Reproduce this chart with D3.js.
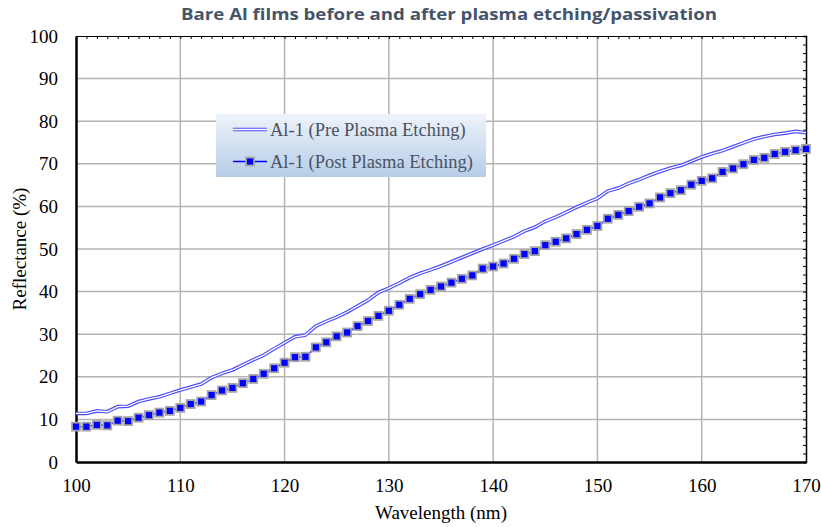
<!DOCTYPE html>
<html>
<head>
<meta charset="utf-8">
<script src="https://cdn.jsdelivr.net/npm/d3@7"></script>
<style>
  body { margin: 0; background: #fff; }
  svg { display: block; }
</style>
</head>
<body>
<script>
var svgWidth = 821;
var svgHeight = 527;
var chartMargin = { top: 36, right: 15, bottom: 65, left: 76 };
var chartWidth = svgWidth - chartMargin.left - chartMargin.right;
var chartHeight = svgHeight - chartMargin.top - chartMargin.bottom;

// wavelength (nm), one point per nm
var wavelengths = d3.range(100, 171);

var preEtching = [
  11.4, 11.4, 12.0, 11.8, 13.0, 13.1, 14.2, 14.8, 15.3, 16.1,
  16.9, 17.6, 18.3, 19.8, 20.8, 21.6, 22.8, 24.0, 25.1, 26.6,
  28.0, 29.4, 29.8, 31.9, 33.0, 34.0, 35.2, 36.6, 38.0, 39.8,
  40.8, 42.0, 43.3, 44.3, 45.1, 46.0, 47.0, 48.0, 49.0, 50.0,
  50.9, 51.9, 52.9, 54.2, 55.1, 56.5, 57.5, 58.6, 59.8, 60.9,
  61.9, 63.6, 64.3, 65.4, 66.3, 67.3, 68.2, 69.0, 69.6, 70.6,
  71.6, 72.4, 73.1, 74.0, 74.9, 75.8, 76.4, 76.9, 77.2, 77.6,
  77.3
];

var postEtching = [
  8.3, 8.3, 8.7, 8.6, 9.7, 9.6, 10.4, 11.0, 11.6, 12.0,
  12.7, 13.6, 14.2, 15.7, 16.8, 17.4, 18.5, 19.5, 20.7, 22.0,
  23.3, 24.6, 24.7, 26.9, 28.1, 29.5, 30.4, 31.9, 33.1, 34.3,
  35.5, 36.9, 38.3, 39.4, 40.4, 41.2, 42.1, 43.0, 43.8, 45.4,
  45.9, 46.6, 47.7, 48.8, 49.5, 50.9, 51.7, 52.5, 53.5, 54.5,
  55.4, 57.1, 58.0, 58.9, 59.9, 60.7, 62.1, 63.1, 63.8, 65.1,
  66.0, 66.6, 68.1, 68.9, 69.9, 70.9, 71.4, 72.3, 72.8, 73.2,
  73.5
];

var xTicks = [100, 110, 120, 130, 140, 150, 160, 170];
var yTicks = [0, 10, 20, 30, 40, 50, 60, 70, 80, 90, 100];
var seriesNames = ["Al-1 (Pre Plasma Etching)", "Al-1 (Post Plasma Etching)"];

var serif = "'Liberation Serif', 'Times New Roman', serif";

var svg = d3.select("body")
  .append("svg")
  .attr("width", svgWidth)
  .attr("height", svgHeight);

var defs = svg.append("defs");
var grad = defs.append("linearGradient")
  .attr("id", "legendGrad")
  .attr("x1", 0).attr("y1", 0).attr("x2", 0).attr("y2", 1);
grad.append("stop").attr("offset", "0%").attr("stop-color", "#eef3fa");
grad.append("stop").attr("offset", "100%").attr("stop-color", "#b6cde8");

var chartGroup = svg.append("g")
  .attr("transform", `translate(${chartMargin.left}, ${chartMargin.top})`);

var xScale = d3.scaleLinear()
  .domain([100, 170])
  .range([0, chartWidth]);

var yScale = d3.scaleLinear()
  .domain([0, 100])
  .range([chartHeight, 0]);

// gridlines
chartGroup.append("g")
  .selectAll("line")
  .data(yTicks.slice(1, -1))
  .enter()
  .append("line")
  .attr("x1", 0).attr("x2", chartWidth)
  .attr("y1", d => yScale(d)).attr("y2", d => yScale(d))
  .attr("stroke", "#b3b3b3")
  .attr("stroke-width", 1.5);

chartGroup.append("g")
  .selectAll("line")
  .data(xTicks.slice(1, -1))
  .enter()
  .append("line")
  .attr("y1", 0).attr("y2", chartHeight)
  .attr("x1", d => xScale(d)).attr("x2", d => xScale(d))
  .attr("stroke", "#b3b3b3")
  .attr("stroke-width", 1.5);

// minor ticks on top and right edges
var topAxis = d3.axisTop(xScale)
  .tickValues(d3.range(100, 171, 1))
  .tickSize(-3)
  .tickFormat("");
var rightAxis = d3.axisRight(yScale)
  .tickValues(d3.range(0, 101, 2))
  .tickSize(-3)
  .tickFormat("");

chartGroup.append("g").call(topAxis)
  .call(g => g.select(".domain").attr("stroke", "#000").attr("stroke-width", 1));
chartGroup.append("g")
  .attr("transform", `translate(${chartWidth}, 0)`)
  .call(rightAxis)
  .call(g => g.select(".domain").attr("stroke", "#000").attr("stroke-width", 1.5));

// main axes
var bottomAxis = d3.axisBottom(xScale).tickValues(xTicks).tickSize(0).tickPadding(17);
var leftAxis = d3.axisLeft(yScale).tickValues(yTicks).tickSize(0).tickPadding(18);

chartGroup.append("g")
  .attr("transform", `translate(0, ${chartHeight})`)
  .call(bottomAxis)
  .call(g => g.select(".domain").attr("stroke", "#000").attr("stroke-width", 2.5))
  .selectAll("text")
  .attr("font-family", serif)
  .attr("font-size", 19)
  .attr("fill", "#000");

chartGroup.append("g")
  .call(leftAxis)
  .call(g => g.select(".domain").attr("stroke", "#000").attr("stroke-width", 2.5))
  .selectAll("text")
  .attr("font-family", serif)
  .attr("font-size", 19)
  .attr("fill", "#000");

// pre etching: double line
var line = d3.line()
  .x((d, i) => xScale(wavelengths[i]))
  .y(d => yScale(d));

chartGroup.append("path")
  .datum(preEtching)
  .attr("d", line)
  .attr("fill", "none")
  .attr("stroke", "#4a4aff")
  .attr("stroke-width", 3.6);
chartGroup.append("path")
  .datum(preEtching)
  .attr("d", line)
  .attr("fill", "none")
  .attr("stroke", "#fff")
  .attr("stroke-width", 1.3);

// post etching: line with square markers
chartGroup.append("path")
  .datum(postEtching)
  .attr("d", line)
  .attr("fill", "none")
  .attr("stroke", "#0000ff")
  .attr("stroke-width", 1.5);

chartGroup.selectAll(".marker")
  .data(postEtching)
  .enter()
  .append("rect")
  .attr("class", "marker")
  .attr("x", (d, i) => xScale(wavelengths[i]) - 4)
  .attr("y", d => yScale(d) - 4)
  .attr("width", 8)
  .attr("height", 8)
  .attr("fill", "#0000ff")
  .attr("stroke", "#a6a6a6")
  .attr("stroke-width", 1.8);

// legend
var legend = svg.append("g").attr("transform", "translate(216, 114)");
legend.append("rect")
  .attr("width", 270)
  .attr("height", 63)
  .attr("fill", "url(#legendGrad)");

legend.append("line")
  .attr("x1", 17).attr("x2", 51).attr("y1", 15.5).attr("y2", 15.5)
  .attr("stroke", "#4a4aff").attr("stroke-width", 3.6);
legend.append("line")
  .attr("x1", 17).attr("x2", 51).attr("y1", 15.5).attr("y2", 15.5)
  .attr("stroke", "#fff").attr("stroke-width", 1.3);

legend.append("line")
  .attr("x1", 17).attr("x2", 51).attr("y1", 47.5).attr("y2", 47.5)
  .attr("stroke", "#0000ff").attr("stroke-width", 1.5);
legend.append("rect")
  .attr("x", 30).attr("y", 43.5).attr("width", 8).attr("height", 8)
  .attr("fill", "#0000ff").attr("stroke", "#a6a6a6").attr("stroke-width", 1.8);

legend.selectAll(".ltext")
  .data(seriesNames)
  .enter()
  .append("text")
  .attr("x", 54)
  .attr("y", (d, i) => 15.5 + i * 32)
  .attr("dy", "0.35em")
  .attr("font-family", serif)
  .attr("font-size", 18.5)
  .attr("fill", "#4a5263")
  .text(d => d);

// titles
svg.append("text")
  .attr("x", 449)
  .attr("y", 20)
  .style("text-anchor", "middle")
  .attr("font-family", "'Open Sans', sans-serif")
  .attr("font-weight", "bold")
  .attr("font-size", 16.5)
  .attr("textLength", 536)
  .attr("lengthAdjust", "spacingAndGlyphs")
  .attr("fill", "#44546a")
  .text("Bare Al films before and after plasma etching/passivation");

svg.append("text")
  .attr("x", chartMargin.left + chartWidth / 2)
  .attr("y", 519)
  .style("text-anchor", "middle")
  .attr("font-family", serif)
  .attr("font-size", 19)
  .text("Wavelength (nm)");

svg.append("text")
  .attr("transform", "rotate(-90)")
  .attr("x", -(chartMargin.top + chartHeight / 2))
  .attr("y", 26)
  .style("text-anchor", "middle")
  .attr("font-family", serif)
  .attr("font-size", 19)
  .text("Reflectance (%)");
</script>
</body>
</html>
